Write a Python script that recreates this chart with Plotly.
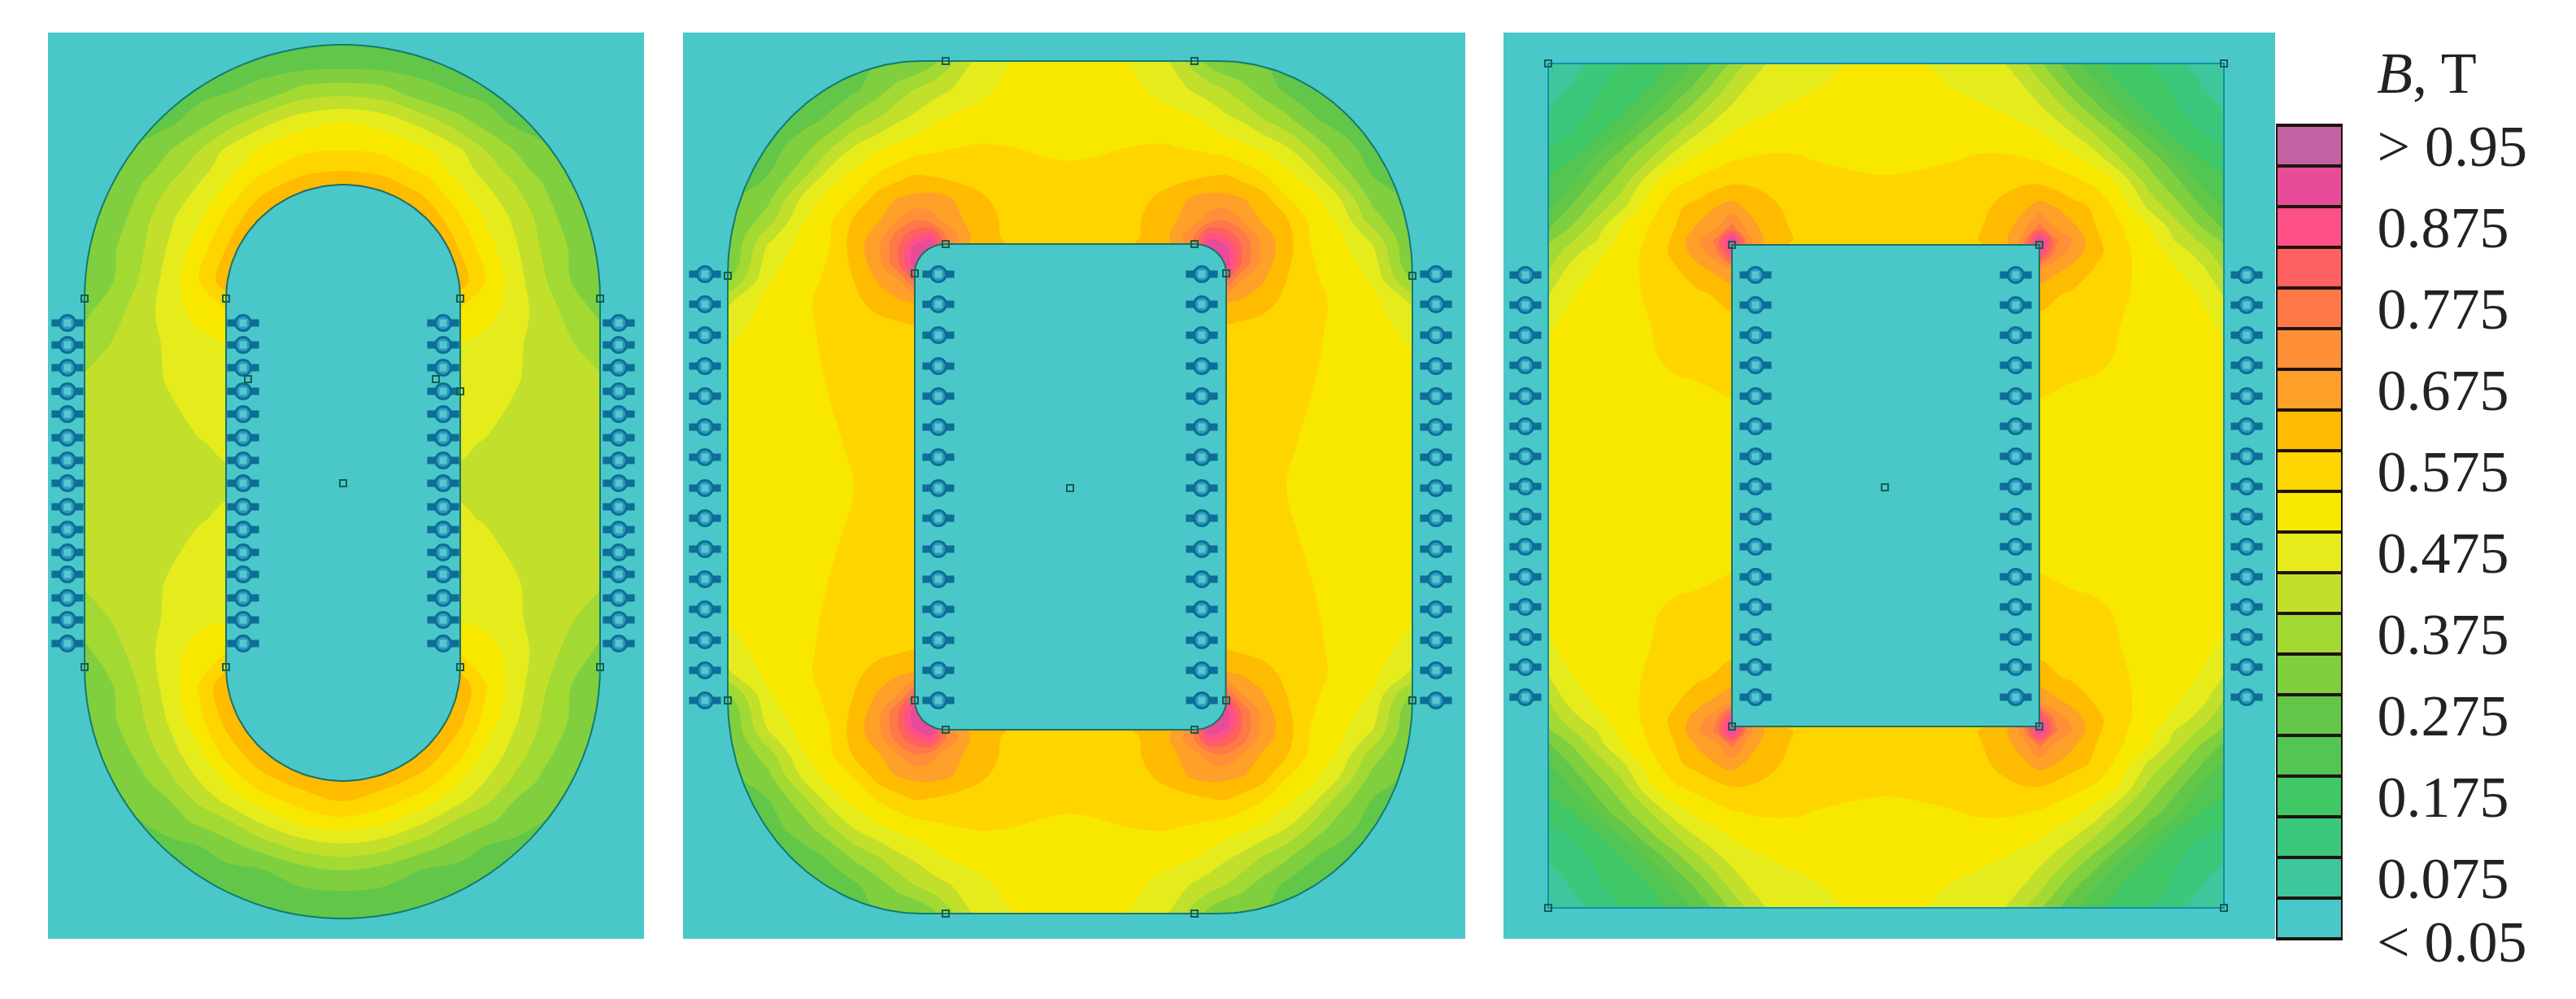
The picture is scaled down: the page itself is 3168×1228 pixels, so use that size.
import numpy as np
import plotly.graph_objects as go

W, H = 3168, 1228

# ---- colour key ----
BAND_CENTERS = [0.025,0.075,0.125,0.175,0.225,0.275,0.325,0.375,0.425,0.475,
                0.525,0.575,0.625,0.675,0.725,0.775,0.825,0.875,0.925,0.975]
BAND_COLORS = ["#48C8C8","#3EC69C","#3CC87C","#40C766","#52C552","#62C748","#80CF3E","#A2D933","#C2E02B","#E6EC1C",
               "#F8E800","#FFD500","#FFBB00","#FFA028","#FF9038","#FF7848","#FF6060","#FF5088","#E64C98","#C262A2"]
TICK_VALUES = [0.975,0.875,0.775,0.675,0.575,0.475,0.375,0.275,0.175,0.075]
TICK_LABELS = ["> 0.95","0.875","0.775","0.675","0.575","0.475","0.375","0.275","0.175","0.075"]
LOW_LABEL = "< 0.05"
KEY_TITLE = "<i>B</i>, T"

# ---- panel 1: left half of the field ----
P1_X = [104,140,175,210,245,278,320,370,421]
P1_Y = [55,85,115,150,185,210,225,265,305,345,385,425,465,505,545,592,
        639,679,719,759,799,845,885,925,960,985,1010,1040,1070,1100,1129]
P1_Z = [
 [.27,.27,.27,.27,.27,.27,.27,.27,.27],
 [.28,.28,.28,.28,.28,.28,.285,.295,.30],
 [.28,.28,.28,.28,.285,.30,.32,.375,.39],
 [.28,.28,.28,.29,.33,.37,.43,.48,.50],
 [.29,.29,.31,.35,.40,.46,.51,.54,.55],
 [.29,.295,.33,.38,.43,.48,.54,.585,.60],
 [.29,.30,.35,.40,.45,.50,.57,.62,.645],
 [.30,.32,.38,.44,.49,.555,.64,.68,.68],
 [.30,.345,.395,.46,.525,.60,.68,.68,.68],
 [.30,.35,.41,.475,.55,.63,.68,.68,.68],
 [.34,.385,.425,.48,.515,.54,.60,.60,.60],
 [.375,.405,.43,.46,.485,.495,.50,.50,.50],
 [.405,.42,.435,.455,.47,.48,.48,.48,.48],
 [.41,.42,.43,.445,.46,.47,.47,.47,.47],
 [.41,.42,.43,.44,.448,.455,.46,.46,.46],
 [.41,.42,.43,.435,.44,.445,.445,.445,.445],
 [.41,.42,.43,.44,.448,.455,.46,.46,.46],
 [.41,.42,.43,.445,.46,.47,.47,.47,.47],
 [.405,.42,.435,.455,.47,.48,.48,.48,.48],
 [.375,.405,.43,.46,.485,.495,.50,.50,.50],
 [.34,.385,.425,.48,.52,.545,.60,.60,.60],
 [.30,.35,.41,.475,.555,.64,.68,.68,.68],
 [.30,.345,.395,.46,.535,.615,.68,.68,.68],
 [.30,.32,.37,.43,.49,.57,.635,.68,.68],
 [.29,.30,.34,.39,.45,.505,.58,.62,.645],
 [.29,.295,.32,.35,.41,.46,.52,.57,.60],
 [.285,.285,.30,.33,.36,.39,.455,.51,.535],
 [.28,.28,.28,.285,.30,.33,.37,.42,.44],
 [.28,.28,.28,.28,.28,.285,.295,.33,.35],
 [.28,.28,.28,.28,.28,.28,.28,.285,.29],
 [.27,.27,.27,.27,.27,.27,.27,.27,.27],
]

# ---- panel 2 ----
P2_X = [895,945,985,1020,1050,1080,1105,1125,1145,1165,1200,1240,1316]
P2_Y = [75,110,145,180,215,245,270,290,305,325,345,370,400,440,490,540,599]
P2_Z = [
 [.30,.30,.30,.30,.30,.30,.30,.30,.33,.38,.46,.495,.53],
 [.28,.28,.28,.28,.29,.33,.37,.40,.425,.445,.48,.515,.54],
 [.28,.28,.28,.305,.36,.40,.44,.46,.485,.505,.52,.535,.545],
 [.28,.28,.32,.39,.45,.49,.51,.525,.535,.545,.553,.55,.54],
 [.285,.30,.38,.47,.515,.555,.58,.60,.595,.585,.585,.565,.56],
 [.285,.34,.455,.52,.555,.625,.655,.665,.67,.66,.61,.585,.57],
 [.29,.375,.49,.54,.605,.645,.70,.745,.72,.68,.625,.59,.575],
 [.29,.43,.51,.545,.62,.675,.78,.84,.88,.74,.63,.59,.58],
 [.295,.46,.515,.55,.62,.69,.80,.92,.95,.72,.62,.60,.60],
 [.30,.48,.525,.555,.61,.68,.79,.93,.95,.70,.60,.60,.60],
 [.34,.495,.53,.56,.60,.655,.70,.80,.80,.70,.60,.60,.60],
 [.44,.515,.54,.565,.585,.625,.645,.655,.66,.66,.60,.60,.60],
 [.48,.52,.54,.56,.57,.58,.59,.60,.60,.60,.60,.60,.60],
 [.505,.525,.54,.555,.565,.57,.575,.575,.575,.575,.575,.575,.575],
 [.51,.525,.54,.55,.56,.565,.57,.57,.57,.57,.57,.57,.57],
 [.515,.525,.535,.545,.555,.56,.565,.565,.565,.565,.565,.565,.565],
 [.515,.525,.53,.54,.55,.56,.565,.565,.565,.565,.565,.565,.565],
]

# ---- panel 3 ----
P3_X = [1904,1930,1960,1995,2030,2060,2090,2110,2130,2150,2175,2210,2260,2319]
P3_Y = [78,105,135,165,195,225,255,280,295,310,330,360,400,440,490,540,597]
P3_Z = [
 [.04,.07,.115,.15,.18,.21,.27,.31,.36,.41,.455,.475,.495,.52],
 [.07,.10,.14,.17,.20,.255,.315,.365,.415,.45,.465,.48,.51,.53],
 [.10,.125,.152,.19,.25,.32,.385,.43,.46,.475,.495,.515,.53,.54],
 [.13,.15,.18,.25,.335,.395,.455,.48,.505,.52,.53,.54,.545,.545],
 [.17,.195,.255,.33,.40,.475,.515,.53,.545,.552,.555,.552,.545,.54],
 [.215,.24,.31,.38,.49,.54,.565,.58,.595,.595,.585,.57,.56,.555],
 [.245,.30,.365,.44,.53,.59,.62,.65,.67,.64,.615,.58,.565,.56],
 [.295,.35,.42,.505,.555,.60,.665,.695,.77,.68,.625,.59,.57,.565],
 [.34,.39,.44,.515,.56,.61,.70,.76,.95,.72,.63,.595,.58,.58],
 [.37,.42,.48,.525,.565,.615,.68,.74,.90,.70,.60,.60,.60,.60],
 [.395,.46,.50,.535,.56,.595,.64,.665,.70,.60,.60,.60,.60,.60],
 [.445,.495,.515,.54,.555,.575,.595,.605,.62,.60,.60,.60,.60,.60],
 [.495,.51,.52,.54,.55,.565,.575,.58,.585,.585,.585,.585,.585,.585],
 [.505,.515,.52,.535,.545,.56,.565,.57,.575,.575,.575,.575,.575,.575],
 [.51,.515,.52,.525,.53,.535,.54,.545,.55,.55,.55,.55,.55,.55],
 [.51,.515,.515,.52,.525,.525,.53,.53,.535,.535,.535,.535,.535,.535],
 [.51,.51,.515,.515,.52,.525,.525,.525,.53,.53,.53,.53,.53,.53],
]

# ---- bolts, nodes ----
P1_BOLT_X = [83,299,545,761]
P1_BOLT_Y = [397,424,452,481,509,538,566,594,623,651,679,706,735,762,791]
P2_BOLT_X = [867,1154,1478,1766]
P2_BOLT_Y = [337,374,412,450,487,525,562,600,637,675,712,749,787,824,861]
P3_BOLT_X = [1876,2159,2479,2763]
P3_BOLT_Y = [338,375,412,449,487,524,561,598,635,672,709,746,783,820,857]

P1_NODE_X = [104,278,566,738,104,278,566,738,422,566,305,536]
P1_NODE_Y = [367,367,367,367,820,820,820,820,594,481,466,466]
P2_NODE_X = [1163,1469,895,1737,1163,1469,1125,1508,1125,1508,895,1737,1163,1469,1316,1163,1469]
P2_NODE_Y = [75,75,339,339,300,300,336,336,861,861,861,861,897,897,600,1123,1123]
P3_NODE_X = [1904,2735,1904,2735,2130,2508,2130,2508,2318]
P3_NODE_Y = [78,78,1116,1116,301,301,893,893,599]

TEAL = "#4AC8C9"
LINE = "#127A72"
DARK = "#20140F"

PANELS = [(59,792,"x","y"),(840,1802,"x2","y2"),(1849,2798,"x3","y3")]
KEY = (2801,2879)
TOP, BOT = 40, 1154
KEY_TOP = 154


def arc(cx, cy, rx, ry, a0, a1, n=60):
    t = np.radians(np.linspace(a0, a1, n))
    return list(cx + rx*np.cos(t)), list(cy - ry*np.sin(t))


def mirror(xs, ys, zs, cx, cy=None):
    z = np.array(zs)
    z = np.hstack([z, z[:, -2::-1]])
    xf = list(xs) + [2*cx - v for v in xs[-2::-1]]
    yf = list(ys)
    if cy is not None:
        z = np.vstack([z, z[-2::-1, :]])
        yf = yf + [2*cy - v for v in ys[-2::-1]]
    return xf, yf, z.tolist()


def stepped():
    out = []
    n = len(BAND_COLORS)
    for i, c in enumerate(BAND_COLORS):
        out += [[i/n, c], [(i+1)/n, c]]
    return out


fig = go.Figure()


def add_field(xs, ys, zs, cx, cy, xa, ya):
    xf, yf, zf = mirror(xs, ys, zs, cx, cy)
    fig.add_trace(go.Contour(x=xf, y=yf, z=zf, xaxis=xa, yaxis=ya, colorscale=stepped(),
                             zmin=0, zmax=1, showscale=False, hoverinfo="skip",
                             contours=dict(start=.05, end=.95, size=.05, coloring="fill"),
                             line=dict(width=0, smoothing=1)))


def add_region(outer, holes, xa, ya, panel, line_color=LINE):
    """teal outside the core and inside its window, with the core outline on top"""
    L, R = panel
    ox, oy = outer
    mx = [L, R, R, L, L] + [ox[0]] + ox[::-1] + [ox[-1], L]
    my = [TOP, TOP, BOT, BOT, TOP] + [oy[0]] + oy[::-1] + [oy[-1], TOP]
    fig.add_trace(go.Scatter(x=mx, y=my, mode="lines", fill="toself", fillcolor=TEAL,
                             line=dict(width=0, color=TEAL), xaxis=xa, yaxis=ya, hoverinfo="skip", showlegend=False))
    fig.add_trace(go.Scatter(x=holes[0], y=holes[1], mode="lines", fill="toself", fillcolor=TEAL,
                             line=dict(width=2, color="#1F6F62"), xaxis=xa, yaxis=ya, hoverinfo="skip", showlegend=False))
    fig.add_trace(go.Scatter(x=ox, y=oy, mode="lines", line=dict(width=2, color=line_color),
                             xaxis=xa, yaxis=ya, hoverinfo="skip", showlegend=False))


def add_marks(bx, by, nx, ny, xa, ya):
    xs = [a for a in bx for _ in by]
    ys = list(by)*len(bx)
    fig.add_trace(go.Scatter(x=xs, y=ys, mode="markers", xaxis=xa, yaxis=ya, hoverinfo="skip", showlegend=False,
                             marker=dict(symbol="line-ew", size=28, line=dict(width=9, color="#0E6E96"))))
    fig.add_trace(go.Scatter(x=xs, y=ys, mode="markers", xaxis=xa, yaxis=ya, hoverinfo="skip", showlegend=False,
                             marker=dict(symbol="circle", size=19, color="#2A9BBE", line=dict(width=3, color="#0E6E96"))))
    fig.add_trace(go.Scatter(x=xs, y=ys, mode="markers", xaxis=xa, yaxis=ya, hoverinfo="skip", showlegend=False,
                             marker=dict(symbol="square", size=9, color="#58C6CE", line=dict(width=0))))
    fig.add_trace(go.Scatter(x=nx, y=ny, mode="markers", xaxis=xa, yaxis=ya, hoverinfo="skip", showlegend=False,
                             marker=dict(symbol="square-open", size=8, color="#155E52", line=dict(width=2, color="#155E52"))))


# panel 1
add_field(P1_X, P1_Y, P1_Z, 421, None, "x", "y")
a = arc(421, 367, 317, 312, 180, 0); b = arc(421, 820, 317, 309, 0, -180)
outer1 = (a[0]+b[0]+[a[0][0]], a[1]+b[1]+[a[1][0]])
a = arc(422, 367, 144, 140, 180, 0); b = arc(422, 820, 144, 140, 0, -180)
inner1 = (a[0]+b[0]+[a[0][0]], a[1]+b[1]+[a[1][0]])
add_region(outer1, inner1, "x", "y", PANELS[0][:2])
add_marks(P1_BOLT_X, P1_BOLT_Y, P1_NODE_X, P1_NODE_Y, "x", "y")

# panel 2
add_field(P2_X, P2_Y, P2_Z, 1316, 599, "x2", "y2")
c1 = arc(1134, 339, 239, 264, 180, 90); c2 = arc(1499, 339, 238, 264, 90, 0)
c3 = arc(1499, 859, 238, 264, 0, -90); c4 = arc(1134, 859, 239, 264, -90, -180)
outer2 = (c1[0]+c2[0]+c3[0]+c4[0]+[c1[0][0]], c1[1]+c2[1]+c3[1]+c4[1]+[c1[1][0]])
c1 = arc(1163, 336, 38, 36, 180, 90, 20); c2 = arc(1469, 336, 39, 36, 90, 0, 20)
c3 = arc(1469, 861, 39, 36, 0, -90, 20); c4 = arc(1163, 861, 38, 36, -90, -180, 20)
inner2 = (c1[0]+c2[0]+c3[0]+c4[0]+[c1[0][0]], c1[1]+c2[1]+c3[1]+c4[1]+[c1[1][0]])
add_region(outer2, inner2, "x2", "y2", PANELS[1][:2])
add_marks(P2_BOLT_X, P2_BOLT_Y, P2_NODE_X, P2_NODE_Y, "x2", "y2")

# panel 3
add_field(P3_X, P3_Y, P3_Z, 2319, 597, "x3", "y3")
outer3 = ([1904, 2735, 2735, 1904, 1904], [78, 78, 1116, 1116, 78])
inner3 = ([2130, 2508, 2508, 2130, 2130], [301, 301, 893, 893, 301])
add_region(outer3, inner3, "x3", "y3", PANELS[2][:2], line_color="#1190A8")
add_marks(P3_BOLT_X, P3_BOLT_Y, P3_NODE_X, P3_NODE_Y, "x3", "y3")

# colour key
fig.add_trace(go.Heatmap(x=[0.5], y=BAND_CENTERS, z=[[v] for v in BAND_CENTERS], xaxis="x4", yaxis="y4",
                         colorscale=stepped(), zmin=0, zmax=1, showscale=False, ygap=4, hoverinfo="skip"))

layout = dict(width=W, height=H, margin=dict(l=0, r=0, t=0, b=0), paper_bgcolor="white", plot_bgcolor=DARK,
              showlegend=False, font=dict(family="Liberation Serif", color="#222222", size=72))


def xd(l, r):
    return [l/W, r/W]


def yd(t, b):
    return [1-b/H, 1-t/H]


hidden = dict(showgrid=False, zeroline=False, showticklabels=False, ticks="", showline=False, automargin=False)
for i, (l, r, xa, ya) in enumerate(PANELS):
    sx = "" if i == 0 else str(i+1)
    layout["xaxis"+sx] = dict(domain=xd(l, r), range=[l, r], anchor=ya, **hidden)
    layout["yaxis"+sx] = dict(domain=yd(TOP, BOT), range=[BOT, TOP], anchor=xa, **hidden)
layout["xaxis4"] = dict(domain=xd(*KEY), range=[0, 1], anchor="y4", showgrid=False, zeroline=False, showticklabels=False,
                        ticks="", showline=True, mirror=True, linecolor=DARK, linewidth=2, automargin=False)
layout["yaxis4"] = dict(domain=yd(KEY_TOP, BOT), range=[0, 1], anchor="x4", side="right", showgrid=False, zeroline=False,
                        tickmode="array", tickvals=TICK_VALUES, ticktext=TICK_LABELS, ticks="", ticklabelstandoff=28,
                        tickfont=dict(family="Liberation Serif", size=72, color="#222222"), automargin=False,
                        showline=True, mirror=True, linecolor=DARK, linewidth=2)
fig.update_layout(**layout)
fig.add_annotation(text=LOW_LABEL, xref="paper", yref="paper", x=2921/W, y=1-1158/H, xanchor="left", yanchor="middle",
                   showarrow=False, font=dict(family="Liberation Serif", size=72, color="#222222"))
fig.add_annotation(text=KEY_TITLE, xref="paper", yref="paper", x=2921/W, y=1-90/H, xanchor="left", yanchor="middle",
                   showarrow=False, font=dict(family="Liberation Serif", size=72, color="#222222"))

fig.write_html("out.html", config=dict(displayModeBar=False),
               post_script="document.body.style.margin='0';document.body.style.overflow='hidden';")
